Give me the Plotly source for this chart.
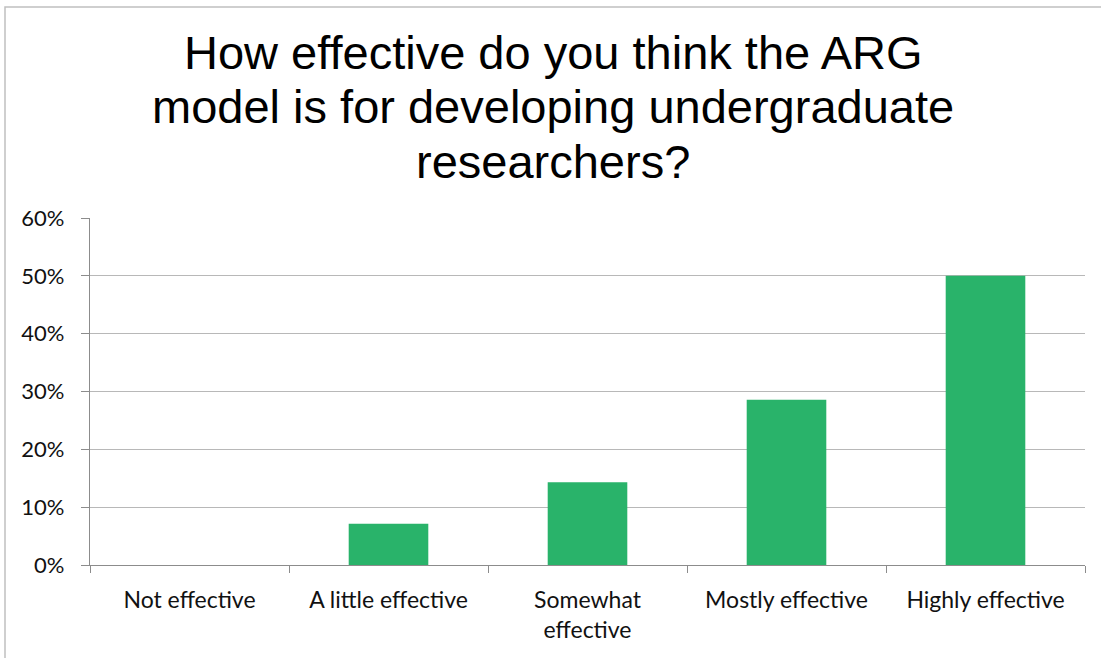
import plotly.graph_objects as go

categories = ["Not effective", "A little effective", "Somewhat<br>effective", "Mostly effective", "Highly effective"]
shares = [0.0, 0.0714, 0.1429, 0.2857, 0.50]
y_ticks = [0, 0.1, 0.2, 0.3, 0.4, 0.5, 0.6]
title_lines = ["How effective do you think the ARG",
               "model is for developing undergraduate",
               "researchers?"]

W, H = 1101, 658
L, R, T, B = 90, 16, 218, 93
pw, ph = W - L - R, H - T - B

fig = go.Figure(go.Bar(x=categories, y=shares, marker=dict(color="#29B36A", line=dict(width=0)),
                       width=0.4, hoverinfo="x+y"))

# title lines, each as its own annotation (pixel centres of each line)
line_centres = [52, 106.5, 161]
annotations = []
for txt, yc in zip(title_lines, line_centres):
    annotations.append(dict(text=txt, xref="paper", yref="paper",
                            x=(553 - L) / pw, y=(H - B - yc) / ph,
                            xanchor="center", yanchor="middle", showarrow=False,
                            font=dict(family="Liberation Sans, Arial", size=47, color="#000000")))

fig.update_layout(
    width=W, height=H,
    margin=dict(l=L, r=R, t=T, b=B),
    paper_bgcolor="white", plot_bgcolor="white",
    showlegend=False,
    font=dict(family="Lato, Calibri, sans-serif", size=22, color="#111111"),
    annotations=annotations,
    shapes=[dict(type="rect", xref="paper", yref="paper",
                 x0=(5 - L) / pw, x1=(W + 10 - L) / pw,
                 y0=(H - B - (H + 10)) / ph, y1=(H - B - 7) / ph,
                 line=dict(color="#c0c0c0", width=1.5), fillcolor="rgba(0,0,0,0)", layer="below")],
)

fig.update_xaxes(type="category", tickson="boundaries", ticks="outside", ticklen=7, tickwidth=1,
                 tickcolor="#8c8c8c", showline=True, linecolor="#8c8c8c", linewidth=1.2,
                 showgrid=False, ticklabelstandoff=14, tickfont=dict(size=23, color="#111111"))
fig.update_yaxes(range=[0, 0.6], tickvals=y_ticks, tickformat=".0%", ticks="outside", ticklen=8,
                 tickcolor="#8c8c8c", showline=True, linecolor="#8c8c8c", linewidth=1.2,
                 showgrid=True, gridcolor="#b8b8b8", gridwidth=1, zeroline=False,
                 ticklabelstandoff=12, tickfont=dict(size=22, color="#111111"))

fig.write_html("out.html")
